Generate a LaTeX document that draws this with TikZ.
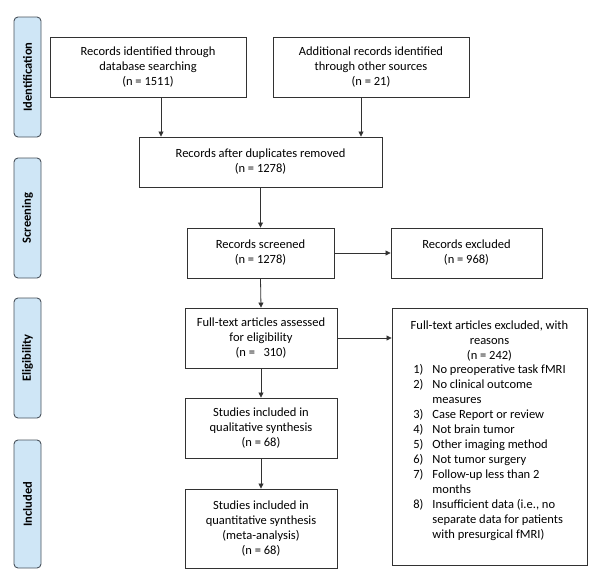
\documentclass[tikz,border=0pt]{standalone}
\usepackage{fontspec}
\setmainfont{Carlito}
\usetikzlibrary{arrows.meta}
\definecolor{phasefill}{RGB}{207,230,246}
\definecolor{phaseline}{RGB}{72,82,92}
\definecolor{boxline}{RGB}{50,50,50}
\begin{document}
\begin{tikzpicture}[x=1pt, y=-1pt, font=\fontsize{12.5}{15}\selectfont]
  \tikzset{box/.style={draw=boxline, line width=0.9pt, align=center, inner sep=2pt}}
  \tikzset{phase/.style={draw=phaseline, fill=phasefill, rounded corners=4pt, line width=0.9pt,
    minimum height=27pt, rotate=90, font=\fontsize{12.5}{14}\selectfont\bfseries}}
  \tikzset{arr/.style={draw=boxline, line width=0.8pt, -{Triangle[length=5pt,width=5pt]}}}
  \useasboundingbox (0,0) rectangle (600,571);
  % phases
  \node[phase, minimum width=120pt] (P1) at (27.5,77) {Identification};
  \node[phase, minimum width=120pt] (P2) at (27.5,218) {Screening};
  \node[phase, minimum width=120pt] (P3) at (27.5,358) {Eligibility};
  \node[phase, minimum width=128pt] (P4) at (27.5,504) {Included};
  % boxes
  \node[box, minimum width=196pt, minimum height=60pt] (B1) at (148,67)
    {Records identified through\\database searching\\(n = 1511)};
  \node[box, minimum width=196pt, minimum height=60pt] (B2) at (371,67)
    {Additional records identified\\through other sources\\(n = 21)};
  \node[box, minimum width=243pt, minimum height=50pt] (B3) at (260.5,162)
    {Records after duplicates removed\\(n = 1278)};
  \node[box, minimum width=147pt, minimum height=50pt] (B4) at (260.5,253)
    {Records screened\\(n = 1278)};
  \node[box, minimum width=151pt, minimum height=50pt] (B5) at (466.5,253)
    {Records excluded\\(n = 968)};
  \node[box, minimum width=152pt, minimum height=60pt] (B6) at (261,338)
    {Full-text articles assessed\\for eligibility\\(n = \ \ 310)};
  \node[box, minimum width=152pt, minimum height=60pt] (B7) at (261,428)
    {Studies included in\\qualitative synthesis\\(n = 68)};
  \node[box, minimum width=152pt, minimum height=79pt] (B8) at (261,528.5)
    {Studies included in\\quantitative synthesis\\(meta-analysis)\\(n = 68)};
  \node[box, minimum width=195pt, minimum height=257pt] (B9) at (489.5,436.5)
    {Full-text articles excluded, with\\reasons\\(n = 242)\\
     \begin{tabular}{@{}l@{\hspace{9pt}}l@{}}
       1) & No preoperative task fMRI\\
       2) & No clinical outcome\\
          & measures\\
       3) & Case Report or review\\
       4) & Not brain tumor\\
       5) & Other imaging method\\
       6) & Not tumor surgery\\
       7) & Follow-up less than 2\\
          & months\\
       8) & Insufficient data (i.e., no\\
          & separate data for patients\\
          & with presurgical fMRI)
     \end{tabular}\\[8pt]};
  % arrows
  \draw[arr] ([xshift=13pt]B1.south) -- ([xshift=13pt]B1.south |- B3.north);
  \draw[arr] ([xshift=-10pt]B2.south) -- ([xshift=-10pt]B2.south |- B3.north);
  \draw[arr] (B3.south) -- (B4.north);
  \draw[arr] (B4.east) -- (B5.west);
  \draw[arr] (B4.south) -- (B6.north);
  \draw[arr] (B6.east) -- (B6.east -| B9.west);
  \draw[arr] (B6.south) -- (B7.north);
  \draw[arr] (B7.south) -- (B8.north);
\end{tikzpicture}
\end{document}
